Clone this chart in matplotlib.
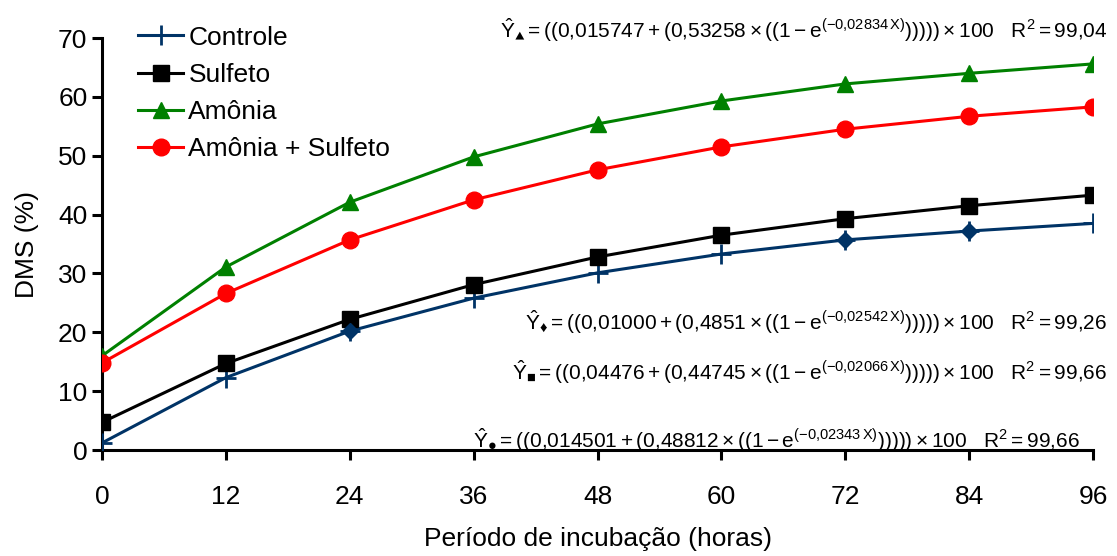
import numpy as np
import matplotlib
matplotlib.use("Agg")
import matplotlib.pyplot as plt

# dados (DMS %)
horas = [0, 12, 24, 36, 48, 60, 72, 84, 96]
controle = [1.2, 12.3, 20.2, 25.8, 30.1, 33.3, 35.7, 37.2, 38.5]
sulfeto = [4.7, 14.7, 22.2, 28.1, 32.8, 36.5, 39.3, 41.5, 43.3]
amonia = [16.0, 31.1, 42.1, 49.8, 55.4, 59.3, 62.2, 64.0, 65.6]
amonia_sulfeto = [14.8, 26.6, 35.7, 42.5, 47.6, 51.5, 54.5, 56.7, 58.3]
# pontos do controle que aparecem como losango
controle_losango = [24, 72, 84]

legendas = ["Controle", "Sulfeto", "Amônia", "Amônia + Sulfeto"]

plt.rcParams['font.family'] = ['Liberation Sans', 'DejaVu Sans']
plt.rcParams['mathtext.fontset'] = 'custom'
plt.rcParams['mathtext.rm'] = 'Liberation Sans'
plt.rcParams['mathtext.it'] = 'Liberation Sans'
plt.rcParams['mathtext.fallback'] = 'stix'

fig = plt.figure(figsize=(11.17, 5.56), dpi=100)
ax = fig.add_axes([102/1117, 106/556, 991/1117, 412/556])

lw = 2.2
ax.plot(horas, controle, color='#003366', linewidth=lw, marker='+', markersize=14,
        markeredgewidth=2, label=legendas[0], zorder=3)
idx = [horas.index(h) for h in controle_losango]
ax.plot([horas[i] for i in idx], [controle[i] for i in idx], linestyle='none',
        marker='D', markersize=8, color='#003366', zorder=4)
ax.plot(horas, sulfeto, color='black', linewidth=lw, marker='s', markersize=12,
        label=legendas[1], zorder=3)
ax.plot(horas, amonia, color='#008000', linewidth=lw, marker='^', markersize=12,
        label=legendas[2], zorder=3)
ax.plot(horas, amonia_sulfeto, color='#ff0000', linewidth=lw, marker='o', markersize=12,
        label=legendas[3], zorder=3)

ax.set_xlim(0, 96)
ax.set_ylim(0, 70)
ax.set_xticks(horas)
ax.set_yticks(range(0, 71, 10))
for s in ['top', 'right']:
    ax.spines[s].set_visible(False)
for s in ['left', 'bottom']:
    ax.spines[s].set_linewidth(2.2)
ax.tick_params(axis='both', width=2.2, length=7, labelsize=19, direction='out')
ax.tick_params(axis='x', pad=18)

ax.set_xlabel("Período de incubação (horas)", fontsize=19, labelpad=13)
ax.set_ylabel("DMS (%)", fontsize=19, labelpad=14)

leg = ax.legend(loc='upper left', bbox_to_anchor=(0.018, 1.075), frameon=False,
                fontsize=19, handlelength=1.7, handletextpad=0.2,
                labelspacing=0.5, borderpad=0.2)

# equacoes de regressao
eq_fs = 15
equacoes = [
    (r'$\hat{\mathrm{Y}}_{\blacktriangle} = ((0{,}015747+(0{,}53258\times((1-\mathrm{e}^{(-0{,}02834\,\mathrm{X})})))))\times100\quad\mathrm{R}^2=99{,}04$', 1107, 30),
    (r'$\hat{\mathrm{Y}}_{DIAM} = ((0{,}01000+(0{,}4851\times((1-\mathrm{e}^{(-0{,}02542\,\mathrm{X})})))))\times100\quad\mathrm{R}^2=99{,}26$'.replace('DIAM', '\u2666'), 1107, 322),
    (r'$\hat{\mathrm{Y}}_{\blacksquare} = ((0{,}04476+(0{,}44745\times((1-\mathrm{e}^{(-0{,}02066\,\mathrm{X})})))))\times100\quad\mathrm{R}^2=99{,}66$', 1107, 372),
    (r'$\hat{\mathrm{Y}}_{DOT} = ((0{,}014501+(0{,}48812\times((1-\mathrm{e}^{(-0{,}02343\,\mathrm{X})})))))\times100\quad\mathrm{R}^2=99{,}66$'.replace('DOT', '\u25cf'), 1080, 440),
]
for txt, px, py in equacoes:
    fig.text(px/1117, 1 - py/556, txt, fontsize=eq_fs, ha='right', va='center')

plt.savefig("out.png", dpi=100)
